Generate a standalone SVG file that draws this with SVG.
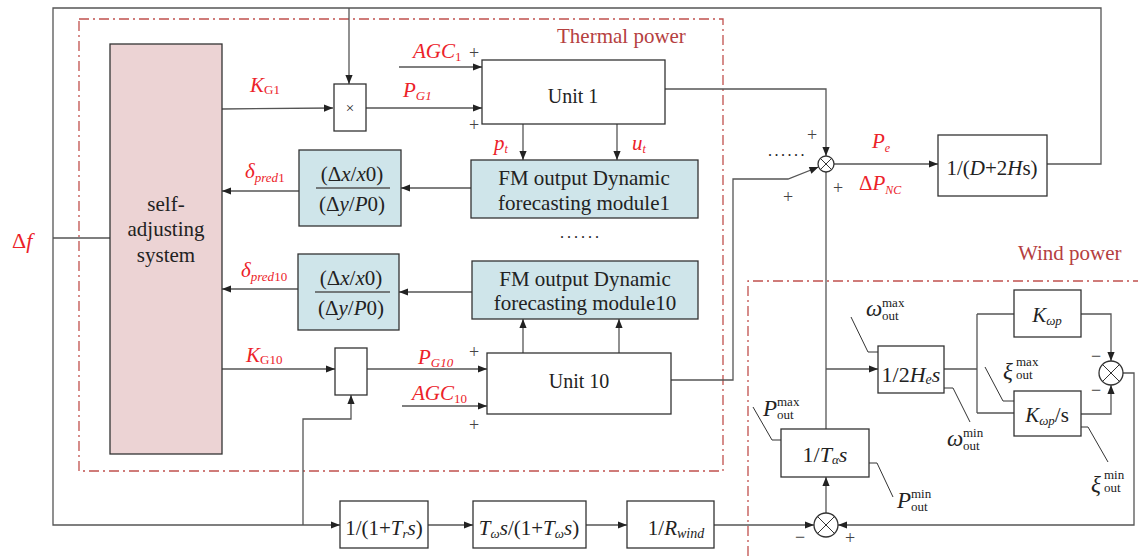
<svg xmlns="http://www.w3.org/2000/svg" width="1138" height="556" viewBox="0 0 1138 556" font-family="'Liberation Serif', 'Times New Roman', 'DejaVu Serif', serif">
<style>
.ln{stroke:#555;stroke-width:1.3;fill:none}
.th{stroke:#333;stroke-width:1;fill:none}
.bx{fill:#fff;stroke:#333;stroke-width:1.3}
.bl{fill:#cfe5ea;stroke:#333;stroke-width:1.3}
.pk{fill:#ecd3d4;stroke:#333;stroke-width:1.3}
.rd{stroke:#c0504d;stroke-width:1.3;stroke-dasharray:10 4 2 4;fill:none}
.t{font-family:'Liberation Serif', 'Times New Roman', serif;fill:#222}
.c{text-anchor:middle}
.r{fill:#ec2229}
.lb{fill:#b5403f}
.s{fill:#444;font-size:18px}
.i{font-style:italic}
</style>
<defs>
<marker id="a" viewBox="0 0 10 10" refX="10" refY="5" markerWidth="11" markerHeight="9" markerUnits="userSpaceOnUse" orient="auto"><path d="M0,1 L10,5 L0,9 z" fill="#222"/></marker>
</defs>
<rect width="1138" height="556" fill="#fff"/>

<g id="regions" class="t">
<rect class="rd" x="79" y="19" width="644" height="452"/>
<path class="rd" d="M748,556 V281 H1138"/>
<text class="t lb" x="557" y="43" font-size="21">Thermal power</text>
<text class="t lb" x="1018" y="260" font-size="21">Wind power</text>
</g>

<g id="connectors">
<path class="ln" d="M1047,164 H1101 V8 H53 V525 H340" marker-end="url(#a)"/>
<path class="ln" d="M53,238 H110"/>
<path class="ln" d="M303,525 V419 H351 V395" marker-end="url(#a)"/>
<path class="ln" d="M349,8 V84" marker-end="url(#a)"/>
<path class="ln" d="M222,109 L333,108" marker-end="url(#a)"/>
<path class="ln" d="M366,108 H482" marker-end="url(#a)"/>
<path class="ln" d="M399,67 H482" marker-end="url(#a)"/>
<path class="ln" d="M523,124 V160" marker-end="url(#a)"/>
<path class="ln" d="M617,124 V160" marker-end="url(#a)"/>
<path class="ln" d="M471,188 H401" marker-end="url(#a)"/>
<path class="ln" d="M299,191 H222" marker-end="url(#a)"/>
<path class="ln" d="M472,292 H399" marker-end="url(#a)"/>
<path class="ln" d="M298,289 H222" marker-end="url(#a)"/>
<path class="ln" d="M222,369 H335" marker-end="url(#a)"/>
<path class="ln" d="M367,369 H487" marker-end="url(#a)"/>
<path class="ln" d="M402,406 H487" marker-end="url(#a)"/>
<path class="ln" d="M523,353 V319" marker-end="url(#a)"/>
<path class="ln" d="M619,353 V319" marker-end="url(#a)"/>
<path class="ln" d="M665,89 H826 V156" marker-end="url(#a)"/>
<path class="ln" d="M671,380 H733 V179 H788 L818.5,167" marker-end="url(#a)"/>
<path class="ln" d="M834,164 H938" marker-end="url(#a)"/>
<path class="ln" d="M826,172 V429"/>
<path class="ln" d="M826,369 H878" marker-end="url(#a)"/>
<path class="ln" d="M944,369 H977 M977,314 V413 M977,314 H1014 M977,413 H1014"/>
<path class="ln" d="M1081,314 H1111 V361" marker-end="url(#a)"/>
<path class="ln" d="M1081,414 H1111 V385" marker-end="url(#a)"/>
<path class="ln" d="M1123,373 H1134 V525 H838" marker-end="url(#a)"/>
<path class="ln" d="M714,525 H814" marker-end="url(#a)"/>
<path class="ln" d="M826,513 V477" marker-end="url(#a)"/>
<path class="ln" d="M428,525 H473" marker-end="url(#a)"/>
<path class="ln" d="M586,525 H627" marker-end="url(#a)"/>
<path class="th" d="M851,317 L868,352 H878"/>
<path class="th" d="M944,388 H953 L970,422"/>
<path class="th" d="M985,367 L1003,401 H1014"/>
<path class="th" d="M1081,427 H1088 L1108,462"/>
<path class="th" d="M753,407 L772,440 H781"/>
<path class="th" d="M869,463 H877 L893,497"/>
</g>

<g id="self-adjusting" class="t">
<rect class="pk" x="110" y="44" width="112" height="410"/>
<text class="t c" x="166" y="211" font-size="21">self-</text>
<text class="t c" x="166" y="236" font-size="21">adjusting</text>
<text class="t c" x="166" y="262" font-size="21">system</text>
</g>

<g id="mult1" class="t">
<rect class="bx" x="334" y="84" width="32" height="47"/>
<text class="t c" x="350" y="113" font-size="15">×</text>
</g>
<g id="mult10">
<rect class="bx" x="335" y="348" width="32" height="47"/>
</g>

<g id="unit1" class="t">
<rect class="bx" x="482" y="60" width="183" height="64"/>
<text class="t c" x="573" y="103" font-size="20">Unit 1</text>
</g>
<g id="unit10" class="t">
<rect class="bx" x="487" y="353" width="184" height="61"/>
<text class="t c" x="579" y="388" font-size="20">Unit 10</text>
</g>

<g id="fm1" class="t">
<rect class="bl" x="471" y="160" width="227" height="58"/>
<text class="t c" x="584" y="185" font-size="21">FM output Dynamic</text>
<text class="t c" x="584" y="210" font-size="21">forecasting module1</text>
</g>
<g id="fm10" class="t">
<rect class="bl" x="472" y="261" width="226" height="58"/>
<text class="t c" x="585" y="286" font-size="21">FM output Dynamic</text>
<text class="t c" x="585" y="310" font-size="21">forecasting module10</text>
</g>
<text class="t" x="560" y="238" font-size="16" letter-spacing="3">......</text>
<text class="t" x="768" y="156" font-size="16" letter-spacing="2.5">......</text>

<g id="ratio1" class="t">
<rect class="bl" x="299" y="150" width="102" height="76"/>
<line class="ln" x1="316" y1="188" x2="390" y2="188"/>
<text class="t c" x="352" y="181" font-size="21">(Δ<tspan class="i">x</tspan>/<tspan class="i">x</tspan>0)</text>
<text class="t c" x="352" y="211" font-size="21">(Δ<tspan class="i">y</tspan>/<tspan class="i">P</tspan>0)</text>
</g>
<g id="ratio10" class="t">
<rect class="bl" x="298" y="254" width="101" height="76"/>
<line class="ln" x1="315" y1="292" x2="390" y2="292"/>
<text class="t c" x="351" y="285" font-size="21">(Δ<tspan class="i">x</tspan>/<tspan class="i">x</tspan>0)</text>
<text class="t c" x="351" y="315" font-size="21">(Δ<tspan class="i">y</tspan>/<tspan class="i">P</tspan>0)</text>
</g>

<g id="sum-main">
<circle class="bx" cx="826" cy="164" r="8"/>
<path class="th" d="M820.3,158.3 L831.7,169.7 M831.7,158.3 L820.3,169.7"/>
</g>
<g id="plant" class="t">
<rect class="bx" x="938" y="135" width="109" height="61"/>
<text class="t c" x="992" y="175" font-size="21">1/(<tspan class="i">D</tspan>+2<tspan class="i">H</tspan>s)</text>
</g>

<g id="inertia" class="t">
<rect class="bx" x="878" y="346" width="66" height="47"/>
<text class="t c" x="911" y="382" font-size="22">1/2<tspan class="i">H</tspan><tspan class="i" font-size="14" dy="2">e</tspan><tspan class="i" dy="-2">s</tspan></text>
</g>
<g id="kp" class="t">
<rect class="bx" x="1014" y="290" width="67" height="47"/>
<text class="t c" x="1047" y="322" font-size="21"><tspan class="i">K</tspan><tspan class="i" font-size="13" dy="3">ωp</tspan></text>
</g>
<g id="ki" class="t">
<rect class="bx" x="1014" y="391" width="67" height="45"/>
<text class="t c" x="1047" y="422" font-size="21"><tspan class="i">K</tspan><tspan class="i" font-size="13" dy="3">ωp</tspan><tspan dy="-3">/s</tspan></text>
</g>
<g id="sum-pi">
<circle class="bx" cx="1111" cy="373" r="12"/>
<path class="th" d="M1102.5,364.5 L1119.5,381.5 M1119.5,364.5 L1102.5,381.5"/>
</g>
<g id="talpha" class="t">
<rect class="bx" x="781" y="429" width="88" height="48"/>
<text class="t c" x="825" y="462" font-size="22">1/<tspan class="i">T</tspan><tspan class="i" font-size="13" dy="2">α</tspan><tspan class="i" dy="-2">s</tspan></text>
</g>
<g id="sum-wind">
<circle class="bx" cx="826" cy="525" r="12"/>
<path class="th" d="M817.5,516.5 L834.5,533.5 M834.5,516.5 L817.5,533.5"/>
</g>

<g id="filter" class="t">
<rect class="bx" x="340" y="501" width="88" height="47"/>
<text class="t c" x="384" y="535" font-size="21">1/(1+<tspan class="i">T</tspan><tspan class="i" font-size="13" dy="3">r</tspan><tspan class="i" dy="-3">s</tspan>)</text>
</g>
<g id="washout" class="t">
<rect class="bx" x="473" y="501" width="113" height="47"/>
<text class="t c" x="529" y="535" font-size="21"><tspan class="i">T</tspan><tspan class="i" font-size="13" dy="3">ω</tspan><tspan class="i" dy="-3">s</tspan>/(1+<tspan class="i">T</tspan><tspan class="i" font-size="13" dy="3">ω</tspan><tspan class="i" dy="-3">s</tspan>)</text>
</g>
<g id="droop" class="t">
<rect class="bx" x="627" y="501" width="87" height="47"/>
<text class="t c" x="676" y="535" font-size="21">1/<tspan class="i">R</tspan><tspan class="i" font-size="14" dy="3">wind</tspan></text>
</g>

<g id="limits" class="t">
<text class="t i" x="866" y="316" font-size="23">ω</text><text class="t" x="882" y="307" font-size="13">max</text><text class="t" x="882" y="320" font-size="13">out</text>
<text class="t i" x="947" y="446" font-size="23">ω</text><text class="t" x="963" y="437" font-size="13">min</text><text class="t" x="963" y="450" font-size="13">out</text>
<text class="t i" x="1003" y="379" font-size="23">ξ</text><text class="t" x="1016" y="366" font-size="13">max</text><text class="t" x="1016" y="379" font-size="13">out</text>
<text class="t i" x="1091" y="492" font-size="23">ξ</text><text class="t" x="1104" y="479" font-size="13">min</text><text class="t" x="1104" y="492" font-size="13">out</text>
<text class="t i" x="763" y="416" font-size="23">P</text><text class="t" x="777" y="406" font-size="13">max</text><text class="t" x="777" y="419" font-size="13">out</text>
<text class="t i" x="897" y="508" font-size="23">P</text><text class="t" x="911" y="498" font-size="13">min</text><text class="t" x="911" y="511" font-size="13">out</text>
</g>

<g id="signs" class="t">
<text class="t s c" x="474" y="59">+</text>
<text class="t s c" x="474" y="131">+</text>
<text class="t s c" x="812" y="141">+</text>
<text class="t s c" x="788" y="203">+</text>
<text class="t s c" x="838" y="194">+</text>
<text class="t s c" x="474" y="358">+</text>
<text class="t s c" x="474" y="431">+</text>
<text class="t s c" x="850" y="544">+</text>
<text class="t s c" x="800" y="543">−</text>
<text class="t s c" x="1096" y="362">−</text>
<text class="t s c" x="1096" y="396">−</text>
</g>

<g id="labels" class="t">
<text class="t r" x="12" y="248" font-size="22">Δ<tspan class="i r">f</tspan></text>
<text class="t r" x="250" y="92" font-size="21"><tspan class="i r">K</tspan><tspan class="r" font-size="13" dy="2">G1</tspan></text>
<text class="t r" x="403" y="97" font-size="21"><tspan class="i r">P</tspan><tspan class="i r" font-size="13" dy="3">G1</tspan></text>
<text class="t r" x="413" y="58" font-size="21"><tspan class="i r">AGC</tspan><tspan class="r" font-size="13" dy="3">1</tspan></text>
<text class="t r i" x="494" y="150" font-size="21">p<tspan class="i r" font-size="12" dy="3">t</tspan></text>
<text class="t r i" x="632" y="150" font-size="21">u<tspan class="i r" font-size="12" dy="3">t</tspan></text>
<text class="t r" x="245" y="178" font-size="21"><tspan class="i r">δ</tspan><tspan class="i r" font-size="13" dy="4">pred</tspan><tspan class="r" font-size="13">1</tspan></text>
<text class="t r" x="241" y="277" font-size="21"><tspan class="i r">δ</tspan><tspan class="i r" font-size="13" dy="4">pred</tspan><tspan class="r" font-size="13">10</tspan></text>
<text class="t r" x="246" y="362" font-size="21"><tspan class="i r">K</tspan><tspan class="r" font-size="13" dy="2">G10</tspan></text>
<text class="t r" x="418" y="364" font-size="21"><tspan class="i r">P</tspan><tspan class="i r" font-size="13" dy="3">G10</tspan></text>
<text class="t r" x="412" y="400" font-size="21"><tspan class="i r">AGC</tspan><tspan class="r" font-size="13" dy="3">10</tspan></text>
<text class="t r" x="872" y="148" font-size="21"><tspan class="i r">P</tspan><tspan class="i r" font-size="12" dy="4">e</tspan></text>
<text class="t r" x="859" y="190" font-size="21">Δ<tspan class="i r">P</tspan><tspan class="i r" font-size="12" dy="4">NC</tspan></text>
</g>
</svg>
